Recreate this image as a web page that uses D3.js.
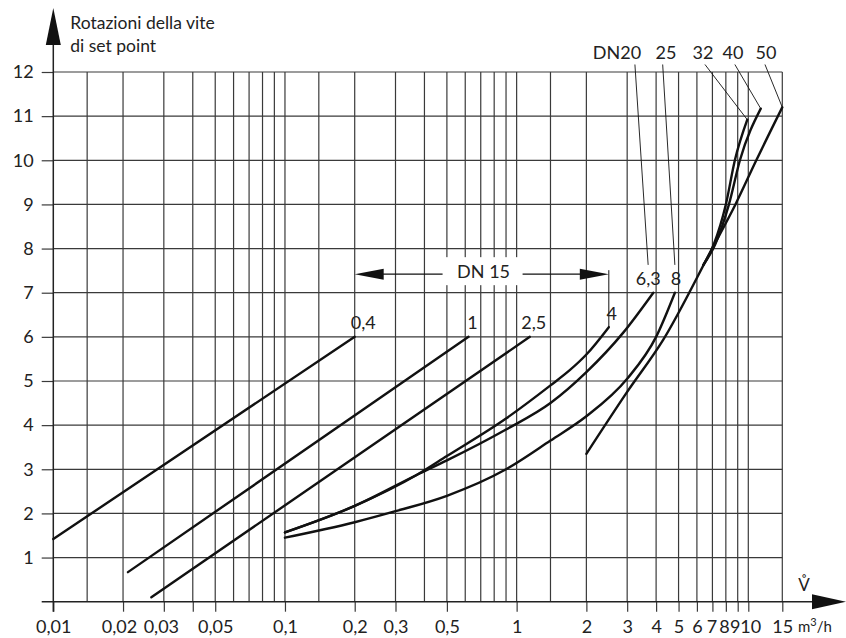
<!DOCTYPE html>
<html>
<head>
<meta charset="utf-8">
<script src="https://cdn.jsdelivr.net/npm/d3@7"></script>
<style>
  body { margin: 0; background: #fff; }
  svg { display: block; font-family: Lato, "Open Sans", sans-serif; }
</style>
</head>
<body>
<svg id="chart"></svg>
<script>
// axis ticks
const xTicks = [0.01, 0.02, 0.03, 0.04, 0.05, 0.1, 0.2, 0.3, 0.5, 1, 2, 3, 4, 5, 6, 7, 8, 9, 10, 15];
const xTickLabels = ["0,01", "0,02", "0,03", "", "0,05", "0,1", "0,2", "0,3", "0,5", "1", "2", "3", "4", "5", "6", "7", "8", "9", "10", "15"];
const yTicks = [1, 2, 3, 4, 5, 6, 7, 8, 9, 10, 11, 12];
const xGrid = [0.014, 0.02, 0.03, 0.04, 0.05, 0.06, 0.07, 0.08, 0.09,
               0.1, 0.14, 0.2, 0.3, 0.4, 0.5, 0.6, 0.7, 0.8, 0.9,
               1, 1.4, 2, 3, 4, 5, 6, 7, 8, 9, 10, 15];

// curves: flow (m3/h) and rotations of the set point screw
const q_kv04 = [0.01, 0.2];
const r_kv04 = [1.42, 6.0];
const q_kv1 = [0.021, 0.62];
const r_kv1 = [0.67, 6.0];
const q_kv25 = [0.0265, 1.14];
const r_kv25 = [0.1, 6.0];
const q_kv4 = [0.1, 0.2, 0.37, 0.5, 0.9, 1.4, 1.7, 2.0, 2.5];
const r_kv4 = [1.57, 2.17, 2.87, 3.3, 4.15, 4.9, 5.25, 5.6, 6.22];
const q_kv63 = [0.1, 0.2, 0.37, 0.5, 0.9, 1.4, 2.0, 2.88, 3.89];
const r_kv63 = [1.57, 2.17, 2.87, 3.2, 3.9, 4.5, 5.2, 6.09, 7.0];
const q_kv8 = [0.1, 0.2, 0.3, 0.5, 0.9, 1.4, 2.0, 3.0, 4.0, 4.82];
const r_kv8 = [1.45, 1.8, 2.05, 2.4, 3.0, 3.65, 4.2, 5.05, 6.0, 7.0];
const q_dn32 = [6.4, 7.1, 8.0, 8.75, 9.9];
const r_dn32 = [7.63, 8.1, 9.0, 10.0, 10.92];
const q_dn40 = [6.4, 7.2, 8.25, 9.2, 11.6];
const r_dn40 = [7.63, 8.1, 9.0, 10.0, 11.17];
const q_dn50 = [2.0, 2.98, 4.29, 6.95, 8.8, 11.0, 15];
const r_dn50 = [3.35, 4.73, 5.93, 7.98, 9.0, 10.0, 11.2];

// labels
const topLabels = ["DN20", "25", "32", "40", "50"];
const topLabelQ = [2.71, 4.41, 6.37, 8.58, 12.35];
const leaderTopQ = [3.24, 4.27, 6.5, 8.75, 12.2];

const width = 846, height = 638;

const x = d3.scaleLog()
    .domain([0.01, 10, 15])
    .range([53.3, 748.3, 782.3]);
const y = d3.scaleLinear()
    .domain([0, 12])
    .range([601.7, 72]);

const svg = d3.select("#chart")
    .attr("width", width)
    .attr("height", height);

const gridColor = "#3a3a3a";
const inkColor = "#111";
const textColor = "#222";

// grid
svg.append("g")
    .selectAll("line")
    .data(xGrid)
    .join("line")
    .attr("x1", d => x(d)).attr("x2", d => x(d))
    .attr("y1", y(0)).attr("y2", y(12))
    .attr("stroke", gridColor)
    .attr("stroke-width", 1.2);

svg.append("g")
    .selectAll("line")
    .data(yTicks)
    .join("line")
    .attr("x1", x(0.01)).attr("x2", x(15))
    .attr("y1", d => y(d)).attr("y2", d => y(d))
    .attr("stroke", gridColor)
    .attr("stroke-width", 1.2);

// axes
// small nudges so crowded labels do not run into each other
const xLabelShift = [0, -4, -3, 0, 0, 0, 0, 0, 0, 0, 0, 0, 0, 0, 0, -1, -2, -3, 2, 0];
const xAxis = svg.append("g")
    .attr("transform", `translate(0,${y(0)})`)
    .call(d3.axisBottom(x).tickValues(xTicks)
        .tickFormat((d, i) => xTickLabels[i])
        .tickSize(10).tickPadding(9));
xAxis.select(".domain").remove();
xAxis.selectAll(".tick text").attr("dx", (d, i) => xLabelShift[i]);

const yAxis = svg.append("g")
    .attr("transform", `translate(${x(0.01)},0)`)
    .call(d3.axisLeft(y).tickValues(yTicks).tickSize(11.6).tickPadding(8));
yAxis.select(".domain").remove();

svg.selectAll(".tick line").attr("stroke", gridColor).attr("stroke-width", 1.2);
svg.selectAll(".tick text")
    .attr("fill", textColor)
    .style("font-size", "18px")
    .style("font-family", "Lato, sans-serif");

// axis lines with arrows
const x0 = x(0.01);
svg.append("line")
    .attr("x1", x0).attr("x2", x0)
    .attr("y1", y(0) + 10).attr("y2", 44)
    .attr("stroke", "#222").attr("stroke-width", 1.5);
svg.append("path")
    .attr("d", `M${x0},8 L${x0 - 7.5},45 L${x0 + 7.5},45 Z`)
    .attr("fill", "#111");

svg.append("line")
    .attr("x1", x0 - 11.6).attr("x2", 813)
    .attr("y1", y(0)).attr("y2", y(0))
    .attr("stroke", "#222").attr("stroke-width", 1.5);
svg.append("path")
    .attr("d", `M846,${y(0)} L812,${y(0) - 7.5} L812,${y(0) + 7.5} Z`)
    .attr("fill", "#111");

// axis titles
const yTitle = svg.append("text")
    .attr("fill", textColor)
    .style("font-size", "17.5px");
yTitle.append("tspan").attr("x", x0 + 17).attr("y", 29).text("Rotazioni della vite");
yTitle.append("tspan").attr("x", x0 + 17).attr("y", 52).text("di set point");

svg.append("text")
    .attr("x", 804).attr("y", 591)
    .attr("text-anchor", "middle")
    .attr("fill", textColor)
    .style("font-size", "17px")
    .text("V\u030A");

const unit = svg.append("text")
    .attr("x", 798).attr("y", 632)
    .attr("fill", textColor)
    .style("font-size", "15px");
unit.append("tspan").text("m");
unit.append("tspan").attr("dy", -6).style("font-size", "11px").text("3");
unit.append("tspan").attr("dy", 6).text("/h");

// curves
const curves = [
    [q_kv04, r_kv04], [q_kv1, r_kv1], [q_kv25, r_kv25],
    [q_kv4, r_kv4], [q_kv63, r_kv63], [q_kv8, r_kv8],
    [q_dn32, r_dn32], [q_dn40, r_dn40], [q_dn50, r_dn50]
].map(([q, r]) => q.map((d, i) => [d, r[i]]));

const line = d3.line()
    .x(d => x(d[0]))
    .y(d => y(d[1]))
    .curve(d3.curveMonotoneX);

svg.append("g")
    .selectAll("path")
    .data(curves)
    .join("path")
    .attr("d", line)
    .attr("fill", "none")
    .attr("stroke", inkColor)
    .attr("stroke-width", 2.4)
    .attr("stroke-linecap", "round");

const labelStyle = sel => sel
    .attr("fill", textColor)
    .style("font-size", "18px");

// kvs labels at the curve ends
const endLabels = [
    { text: "0,4", c: 0, dx: -4, anchor: "start" },
    { text: "1", c: 1, dx: 4, anchor: "middle" },
    { text: "2,5", c: 2, dx: 4, anchor: "middle" }
];
endLabels.forEach(l => {
    const p = curves[l.c][curves[l.c].length - 1];
    svg.append("text")
        .attr("x", x(p[0]) + l.dx)
        .attr("y", y(p[1]) - 8)
        .attr("text-anchor", l.anchor)
        .call(labelStyle)
        .text(l.text);
});

// DN 15 range arrow
const dn15From = 0.2, dn15To = 2.5, dn15Level = 7.42, dn15TextQ = 0.72;
const ay = y(dn15Level);
svg.append("line")
    .attr("x1", x(dn15From) + 20).attr("x2", x(dn15To) - 20)
    .attr("y1", ay).attr("y2", ay)
    .attr("stroke", inkColor).attr("stroke-width", 1.2);
svg.append("path")
    .attr("d", `M${x(dn15From)},${ay} L${x(dn15From) + 29},${ay - 5.5} L${x(dn15From) + 29},${ay + 5.5} Z`)
    .attr("fill", inkColor);
svg.append("path")
    .attr("d", `M${x(dn15To)},${ay} L${x(dn15To) - 29},${ay - 5.5} L${x(dn15To) - 29},${ay + 5.5} Z`)
    .attr("fill", inkColor);
svg.append("rect")
    .attr("x", x(dn15TextQ) - 41).attr("y", ay - 17)
    .attr("width", 80).attr("height", 28)
    .attr("fill", "#fff");
svg.append("text")
    .attr("x", x(dn15TextQ)).attr("y", ay + 4)
    .attr("text-anchor", "middle")
    .call(labelStyle)
    .text("DN 15");

// leader from the arrow down to the kvs 4 curve
const kv4End = curves[3][curves[3].length - 1];
svg.append("line")
    .attr("x1", x(kv4End[0])).attr("x2", x(kv4End[0]))
    .attr("y1", ay - 4).attr("y2", y(kv4End[1]))
    .attr("stroke", inkColor).attr("stroke-width", 1);
svg.append("text")
    .attr("x", x(kv4End[0]) + 3).attr("y", y(kv4End[1]) - 7)
    .attr("text-anchor", "middle")
    .call(labelStyle)
    .text("4");

// kvs 6,3 and 8 labels
const kv63End = curves[4][curves[4].length - 1];
const kv8End = curves[5][curves[5].length - 1];
svg.append("text")
    .attr("x", x(kv63End[0]) - 5).attr("y", y(kv63End[1]) - 8)
    .attr("text-anchor", "middle")
    .call(labelStyle)
    .text("6,3");
svg.append("text")
    .attr("x", x(kv8End[0]) + 1).attr("y", y(kv8End[1]) - 8)
    .attr("text-anchor", "middle")
    .call(labelStyle)
    .text("8");

// DN labels at the top and their leaders
const leaderEnds = [
    [kv63End[0] * 0.95, kv63End[1] + 0.63],
    [kv8End[0], kv8End[1] + 0.63],
    curves[6][curves[6].length - 1],
    curves[7][curves[7].length - 1],
    curves[8][curves[8].length - 1]
];
const topLevel = 12.29;
svg.append("g")
    .selectAll("line")
    .data(topLabels)
    .join("line")
    .attr("x1", (d, i) => x(leaderTopQ[i]))
    .attr("y1", y(12.17))
    .attr("x2", (d, i) => x(leaderEnds[i][0]))
    .attr("y2", (d, i) => y(leaderEnds[i][1]))
    .attr("stroke", inkColor)
    .attr("stroke-width", 0.9);

svg.append("g")
    .selectAll("text")
    .data(topLabels)
    .join("text")
    .attr("x", (d, i) => x(topLabelQ[i]))
    .attr("y", y(topLevel))
    .attr("text-anchor", "middle")
    .call(labelStyle)
    .text(d => d);
</script>
</body>
</html>
